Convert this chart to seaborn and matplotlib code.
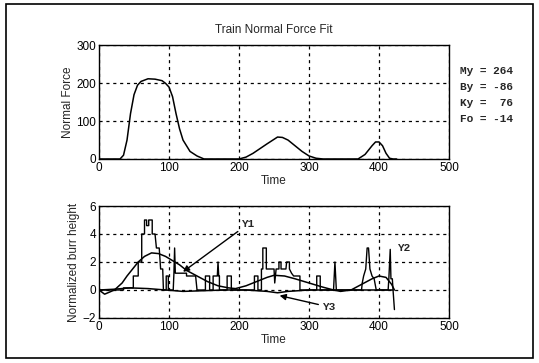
import matplotlib
matplotlib.use("Agg")
import matplotlib.pyplot as plt
import seaborn as sns
import pandas as pd
from matplotlib.patches import Rectangle

# ---- data ----
force_t = [0, 30, 35, 40, 45, 50, 55, 60, 70, 80, 90, 95, 100, 105, 110, 115, 120, 125,
           130, 140, 150, 200, 210, 220, 240, 255, 262, 270, 280, 290, 300, 310, 320,
           370, 380, 390, 395, 400, 405, 410, 415, 420, 425]
force_v = [0, 0, 10, 50, 120, 170, 195, 205, 212, 211, 207, 200, 190, 165, 120, 80, 50, 35,
           20, 8, 0, 0, 5, 15, 40, 58, 57, 50, 35, 20, 8, 2, 0,
           0, 12, 35, 45, 45, 35, 15, 2, 0, 0]

y1_t = [0, 8, 22, 33, 40, 48, 56, 65, 75, 85, 95, 105, 115, 125, 140, 155, 170, 185, 195,
        210, 225, 240, 250, 265, 280, 300, 320, 335, 345, 360, 375, 390, 400, 410, 418, 422]
y1_v = [0, -0.3, 0, 0.5, 1.0, 1.5, 2.0, 2.4, 2.65, 2.6, 2.4, 2.1, 1.8, 1.4, 1.0, 0.6, 0.3, 0.15, 0.1,
        0.3, 0.6, 0.9, 1.05, 1.0, 0.8, 0.5, 0.2, 0.0, -0.1, 0.0, 0.4, 0.8, 1.0, 0.9, 0.4, 0.0]

y2_t = [0, 35, 35, 49, 49, 56, 56, 61, 61, 65, 65, 68, 68, 71, 71, 76, 76, 80, 82, 86, 88, 91, 92,
        96, 96, 99, 99, 106, 107, 108, 109, 125, 125, 138, 140,
        152, 152, 158, 158, 163, 163, 169, 170, 171, 172, 172,
        183, 183, 189, 189, 222, 222, 227, 227,
        232, 232, 234, 234, 239, 239, 250, 251, 253, 257, 257, 260, 260, 267, 268, 272, 272, 275,
        278, 287, 287, 311, 311, 316, 316, 335, 336, 337, 338, 339,
        375, 376, 378, 381, 383, 385, 387, 390, 393, 396, 413, 414, 416, 417, 419, 420, 422]
y2_v = [0, 0, 0.15, 0.15, 1, 1, 2, 2, 4, 4, 5, 5, 4.6, 4.6, 5, 5, 4, 4, 3, 3, 1.5, 1.5, 0,
        0, 1, 1, 0, 0, 1.2, 3, 1.2, 1.2, 1.0, 1.0, 0,
        0, 1, 1, 0, 0, 1, 1, 2, 1, 1, 0,
        0, 1, 1, 0, 0, 1, 1, 0,
        0, 1.5, 1.5, 3, 3, 1.5, 1.5, 0.5, 1.5, 1.5, 2, 2, 1.5, 1.5, 2, 2, 1.5, 1.2,
        1, 1, 0, 0, 1, 1, 0, 0, 1, 2, 1, 0,
        0, 0.5, 1, 1.5, 3, 3, 1.5, 1, 0.8, 0, 0, 0.8, 2.9, 0.8, 0.8, 0, -1.4]

y3_t = [0, 20, 45, 70, 95, 120, 150, 180, 210, 240, 255, 270, 300, 420]
y3_v = [0, 0.05, 0.15, 0.1, 0, -0.1, -0.05, 0, 0, -0.1, -0.2, -0.1, 0, 0]

params = ["My = 264", "By = -86", "Ky =  76", "Fo = -14"]
x_ticks = [0, 100, 200, 300, 400, 500]
top_yticks = [0, 100, 200, 300]
bot_yticks = [-2, 0, 2, 4, 6]

# ---- style ----
sns.set_style("white")
plt.rcParams['font.family'] = ['Liberation Sans', 'DejaVu Sans']
plt.rcParams['font.size'] = 8.5

fig = plt.figure(figsize=(5.39, 3.63), dpi=100)
fig.patches.append(Rectangle((0.011, 0.014), 0.978, 0.974, transform=fig.transFigure,
                             fill=False, edgecolor='black', lw=1.2))

ax1 = fig.add_axes([0.1837, 0.562, 0.6494, 0.3127])
ax2 = fig.add_axes([0.1837, 0.124, 0.6494, 0.3085])

df_f = pd.DataFrame({"Time": force_t, "Force": force_v})
sns.lineplot(data=df_f, x="Time", y="Force", ax=ax1, color='black', lw=1.1,
             sort=False, estimator=None)

sns.lineplot(x=y2_t, y=y2_v, ax=ax2, color='black', lw=1.0, sort=False, estimator=None)
sns.lineplot(x=y1_t, y=y1_v, ax=ax2, color='black', lw=1.1, sort=False, estimator=None)
sns.lineplot(x=y3_t, y=y3_v, ax=ax2, color='black', lw=1.1, sort=False, estimator=None)

for ax, yt, ylim in [(ax1, top_yticks, (0, 300)), (ax2, bot_yticks, (-2, 6))]:
    ax.set_xlim(0, 500)
    ax.set_ylim(*ylim)
    ax.set_xticks(x_ticks)
    ax.set_yticks(yt)
    ax.grid(True, color='black', linestyle=(0, (2.5, 3)), lw=0.9)
    for s in ax.spines.values():
        s.set_visible(True)
        s.set_color('black')
        s.set_linewidth(1.0)
    ax.tick_params(direction='in', length=3, labelsize=8.5, pad=2, colors='black')
    ax.set_xlabel("Time", fontsize=8.5, labelpad=1)

ax1.set_ylabel("Normal Force", fontsize=8.5, labelpad=2)
ax2.set_ylabel("Normalized burr height", fontsize=8.5, labelpad=2)
ax1.set_title("Train Normal Force Fit", fontsize=8.5, pad=9)

mono = dict(family='Liberation Mono', fontweight='bold', fontsize=8)
for i, p in enumerate(params):
    fig.text(0.853, 1 - (71 + i * 16) / 363, p, va='center', ha='left', **mono)

arrow = dict(arrowstyle='-|>', color='black', lw=1.0, mutation_scale=9, shrinkA=0, shrinkB=0)
ax2.annotate("Y1", xy=(120, 1.3), xytext=(203, 4.7), ha='left', va='center',
             arrowprops=arrow, **mono)
ax2.annotate("Y3", xy=(258, -0.4), xytext=(318, -1.2), ha='left', va='center',
             arrowprops=arrow, **mono)
ax2.text(425, 3.0, "Y2", ha='left', va='center', **mono)

fig.savefig("out.png", dpi=100)
